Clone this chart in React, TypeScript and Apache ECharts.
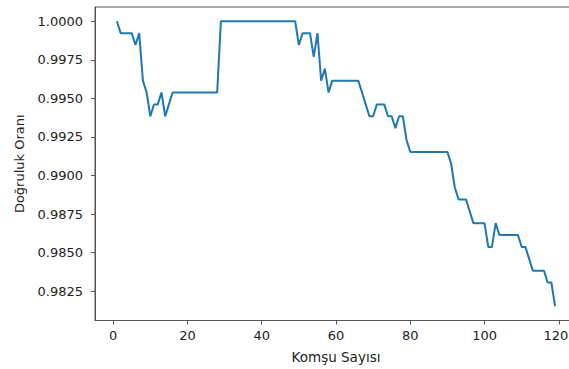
import React, { useEffect, useRef } from "react";
import * as echarts from "echarts";

const neighbors = [
  1, 2, 3, 4, 5, 6, 7, 8, 9, 10, 11, 12, 13, 14, 15, 16, 17, 18, 19, 20,
  21, 22, 23, 24, 25, 26, 27, 28, 29, 30, 31, 32, 33, 34, 35, 36, 37, 38, 39, 40,
  41, 42, 43, 44, 45, 46, 47, 48, 49, 50, 51, 52, 53, 54, 55, 56, 57, 58, 59, 60,
  61, 62, 63, 64, 65, 66, 67, 68, 69, 70, 71, 72, 73, 74, 75, 76, 77, 78, 79, 80,
  81, 82, 83, 84, 85, 86, 87, 88, 89, 90, 91, 92, 93, 94, 95, 96, 97, 98, 99, 100,
  101, 102, 103, 104, 105, 106, 107, 108, 109, 110, 111, 112, 113, 114, 115, 116, 117, 118, 119,
];

const accuracy = [
  1.0, 0.99923, 0.99923, 0.99923, 0.99923, 0.99846, 0.99923, 0.99615, 0.99538, 0.99384,
  0.99461, 0.99461, 0.99538, 0.99384, 0.99461, 0.99538, 0.99538, 0.99538, 0.99538, 0.99538,
  0.99538, 0.99538, 0.99538, 0.99538, 0.99538, 0.99538, 0.99538, 0.99538, 1.0, 1.0,
  1.0, 1.0, 1.0, 1.0, 1.0, 1.0, 1.0, 1.0, 1.0, 1.0,
  1.0, 1.0, 1.0, 1.0, 1.0, 1.0, 1.0, 1.0, 1.0, 0.99846,
  0.99923, 0.99923, 0.99923, 0.99769, 0.99923, 0.99615, 0.99692, 0.99538, 0.99615, 0.99615,
  0.99615, 0.99615, 0.99615, 0.99615, 0.99615, 0.99615, 0.99538, 0.99461, 0.99384, 0.99384,
  0.99461, 0.99461, 0.99461, 0.99384, 0.99384, 0.99307, 0.99384, 0.99384, 0.9923, 0.99153,
  0.99153, 0.99153, 0.99153, 0.99153, 0.99153, 0.99153, 0.99153, 0.99153, 0.99153, 0.99153,
  0.99076, 0.98922, 0.98845, 0.98845, 0.98845, 0.98768, 0.98691, 0.98691, 0.98691, 0.98691,
  0.98537, 0.98537, 0.98691, 0.98614, 0.98614, 0.98614, 0.98614, 0.98614, 0.98614, 0.98537,
  0.98537, 0.9846, 0.98383, 0.98383, 0.98383, 0.98383, 0.98306, 0.98306, 0.98152,
];

const xTicks = [0, 20, 40, 60, 80, 100, 120];
const yTicks = [0.9825, 0.985, 0.9875, 0.99, 0.9925, 0.995, 0.9975, 1.0];

const xMin = -4.9;
const xMax = 124.9;
const yMin = 0.980596;
const yMax = 1.000924;

const FONT = "DejaVu Sans";
const TEXT = "#222";
const SPINE = "#555";

export default function App() {
  const ref = useRef<HTMLDivElement>(null);
  useEffect(() => {
    if (!ref.current) return;
    const chart = echarts.init(ref.current, undefined, { renderer: "svg" });
    const lastX = xTicks[xTicks.length - 1];
    chart.setOption({
      animation: false,
      backgroundColor: "#fff",
      grid: {
        left: 95,
        right: -8,
        top: 7,
        bottom: 48.5,
        show: true,
        borderColor: SPINE,
        borderWidth: 1,
        containLabel: false,
        outerBoundsMode: "none",
      },
      xAxis: {
        type: "value",
        min: xMin,
        max: xMax,
        name: "Komşu Sayısı",
        nameLocation: "middle",
        nameGap: 29,
        nameTextStyle: { fontFamily: FONT, fontSize: 13.5, color: TEXT },
        axisLine: { show: true, onZero: false, lineStyle: { color: SPINE, width: 1 } },
        axisTick: { show: true, length: 4, lineStyle: { color: SPINE }, customValues: xTicks },
        axisLabel: {
          customValues: xTicks,
          margin: 8,
          fontFamily: FONT,
          fontSize: 13,
          color: TEXT,
          formatter: (v: number) => (v === lastX ? `{edge|${v}}` : String(v)),
          rich: {
            edge: { fontFamily: FONT, fontSize: 13, color: TEXT, padding: [0, 6, 0, 0] },
          },
        },
        splitLine: { show: false },
      },
      yAxis: {
        type: "value",
        min: yMin,
        max: yMax,
        name: "Doğruluk Oranı",
        nameLocation: "middle",
        nameGap: 69,
        nameTextStyle: { fontFamily: FONT, fontSize: 13, color: TEXT },
        axisLine: { show: true, onZero: false, lineStyle: { color: SPINE, width: 1 } },
        axisTick: { show: true, length: 4, lineStyle: { color: SPINE }, customValues: yTicks },
        axisLabel: {
          customValues: yTicks,
          margin: 12,
          fontFamily: FONT,
          fontSize: 13,
          color: TEXT,
          formatter: (v: number) => v.toFixed(4),
        },
        splitLine: { show: false },
      },
      series: [
        {
          type: "line",
          data: neighbors.map((n, i) => [n, accuracy[i]]),
          showSymbol: false,
          symbol: "none",
          lineStyle: { color: "#1f77b4", width: 2 },
          clip: false,
        },
      ],
    });
    return () => chart.dispose();
  }, []);
  return (
    <div
      ref={ref}
      style={{ position: "absolute", left: 0, top: 0, width: 569, height: 369 }}
    />
  );
}
